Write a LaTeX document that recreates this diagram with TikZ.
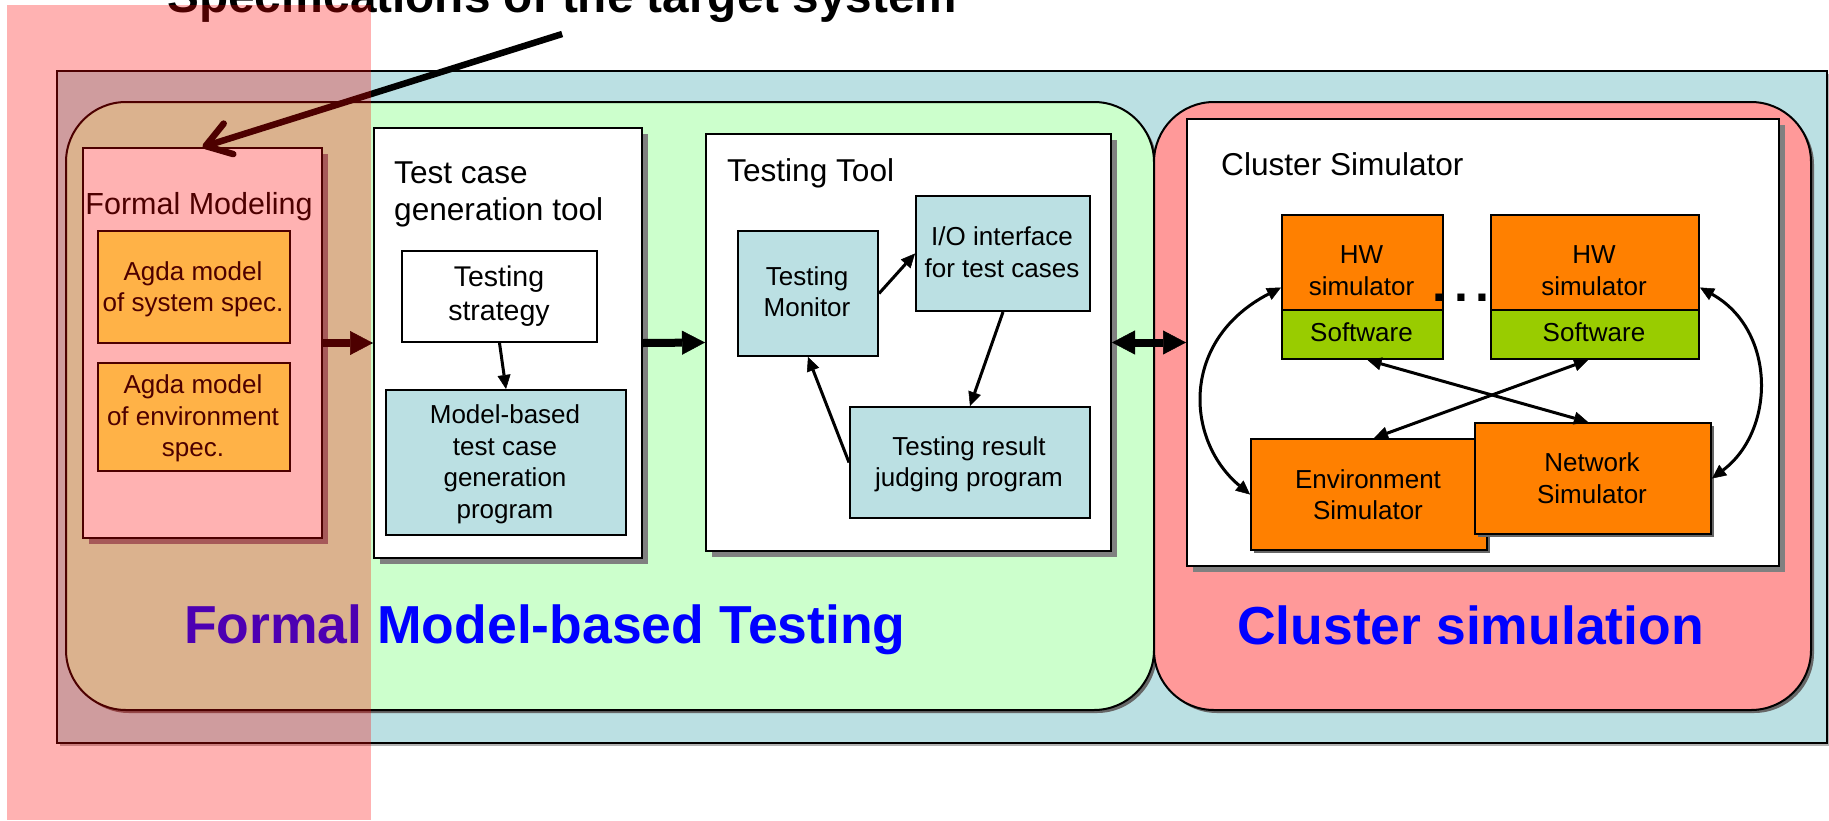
\documentclass[tikz,border=0pt]{standalone}
\usepackage{fontspec}
\setmainfont{Liberation Sans}
\usetikzlibrary{arrows.meta,shadows}
\definecolor{panelblue}{RGB}{187,224,227}
\definecolor{mbtgreen}{RGB}{204,255,204}
\definecolor{simred}{RGB}{255,153,153}
\definecolor{simorange}{RGB}{255,128,0}
\definecolor{swgreen}{RGB}{153,204,0}
\definecolor{agdayellow}{RGB}{255,255,102}
\newcommand{\fsz}[2]{\fontsize{#1}{#2}\selectfont}
% first-line struts, so that a label's top sits a fixed distance above its first baseline
\newcommand{\strutA}{\rule{0pt}{20pt}}
\newcommand{\strutB}{\rule{0pt}{21.5pt}}
\newcommand{\strutC}{\rule{0pt}{23pt}}
\begin{document}
\begin{tikzpicture}[x=1pt,y=-1pt,
  panel/.style={draw=black, line width=2pt, inner sep=0pt, anchor=north west},
  boxshadow/.style={drop shadow={shadow xshift=6pt, shadow yshift=-6pt, fill=black!50, opacity=1}},
  smallshadow/.style={drop shadow={shadow xshift=3pt, shadow yshift=-3pt, fill=black!60, opacity=1}},
  lbl/.style={inner sep=0pt, align=center, anchor=north, font=\fsz{26}{31.7}},
  hdr/.style={inner sep=0pt, anchor=base west, font=\fsz{31.6}{36.7}},
  bigtxt/.style={inner sep=0pt, anchor=base west, text=blue, font=\bfseries\fsz{53.5}{64}},
  flowarrow/.style={line width=3pt, -{Triangle[length=14pt,width=13pt,line width=0.5pt]}},
  flowboth/.style={line width=3pt, {Triangle[length=14pt,width=13pt,line width=0.5pt]}-{Triangle[length=14pt,width=13pt,line width=0.5pt]}},
  bigarrow/.style={line width=8pt, -{Triangle[length=23pt,width=24pt,line width=0.5pt]}},
  bigboth/.style={line width=8pt, {Triangle[length=23pt,width=24pt,line width=0.5pt]}-{Triangle[length=23pt,width=24pt,line width=0.5pt]}},
  titlearrow/.style={line width=6.5pt, -{Straight Barb[length=24pt,width=32pt,round]}},
]
\useasboundingbox (0,0) rectangle (1829,820);

% background panels
\node[panel, fill=panelblue, minimum width=1770pt, minimum height=672pt,
      drop shadow={shadow xshift=3pt, shadow yshift=-3pt, fill=black!30, opacity=1}] (outer) at (56,70) {};
\node[panel, fill=mbtgreen, rounded corners=60pt, minimum width=1088pt, minimum height=608pt, smallshadow] (mbt) at (65,101) {};
\node[panel, fill=simred, rounded corners=60pt, minimum width=657pt, minimum height=608pt, smallshadow] (sim) at (1153,101) {};

% formal modeling
\node[panel, fill=white, minimum width=239pt, minimum height=390pt, boxshadow] (fm) at (82,147) {};
\node[panel, fill=agdayellow, minimum width=192pt, minimum height=112pt] (agda1) at (97,230) {};
\node[panel, fill=agdayellow, minimum width=192pt, minimum height=108pt] (agda2) at (97,362) {};
\node[inner sep=0pt, anchor=base, font=\fsz{30.5}{36}] (fm-t) at (199,214) {Formal Modeling};
\node[lbl] (agda1-t) at (193,260) {\strutA Agda model\\of system spec.};
\node[lbl] (agda2-t) at (193,373.3) {\strutA Agda model\\of environment\\spec.};

% test case generation tool
\node[panel, fill=white, minimum width=268pt, minimum height=430pt, boxshadow] (tcg) at (373,127) {};
\node[panel, fill=white, minimum width=195pt, minimum height=91pt] (ts) at (401,250) {};
\node[panel, fill=panelblue, minimum width=240pt, minimum height=145pt] (mb) at (385,389) {};
\node[inner sep=0pt, anchor=north west, align=left, font=\fsz{31.6}{36.7}] (tcg-t) at (394,160.3) {\strutC Test case\\generation tool};
\node[lbl, font=\fsz{28.5}{34}] (ts-t) at (499,265.2) {\strutB Testing\\strategy};
\node[lbl] (mb-t) at (505,403.3) {\strutA Model-based\\test case\\generation\\program};

% testing tool
\node[panel, fill=white, minimum width=405pt, minimum height=417pt, boxshadow] (tt) at (705,133) {};
\node[panel, fill=panelblue, minimum width=140pt, minimum height=125pt] (mon) at (737,230) {};
\node[panel, fill=panelblue, minimum width=174pt, minimum height=115pt] (io) at (915,195) {};
\node[panel, fill=panelblue, minimum width=240pt, minimum height=111pt] (res) at (849,406) {};
\node[hdr] (tt-t) at (727,181.7) {Testing Tool};
\node[lbl] (mon-t) at (807,265) {\strutA Testing\\Monitor};
\node[lbl] (io-t) at (1002,225.7) {\strutA I/O interface\\for test cases};
\node[lbl] (res-t) at (969,435) {\strutA Testing result\\judging program};

% cluster simulator
\node[panel, fill=white, minimum width=592pt, minimum height=447pt, boxshadow] (cs) at (1186,118) {};
\node[panel, fill=simorange, minimum width=161pt, minimum height=95pt] (hw1) at (1281,214) {};
\node[panel, fill=swgreen, minimum width=161pt, minimum height=49pt] (sw1) at (1281,309) {};
\node[panel, fill=simorange, minimum width=208pt, minimum height=95pt] (hw2) at (1490,214) {};
\node[panel, fill=swgreen, minimum width=208pt, minimum height=49pt] (sw2) at (1490,309) {};
\node[panel, fill=simorange, minimum width=236pt, minimum height=111pt,
      drop shadow={shadow xshift=2.5pt, shadow yshift=-2.5pt, fill=black!60, opacity=1}] (env) at (1250,438) {};
\node[panel, fill=simorange, minimum width=236pt, minimum height=111pt,
      drop shadow={shadow xshift=2.5pt, shadow yshift=-2.5pt, fill=black!60, opacity=1}] (net) at (1474,422) {};
\node[hdr] (cs-t) at (1221,175) {Cluster Simulator};
\node[lbl] (hw1-t) at (1361.5,243.3) {\strutA HW\\simulator};
\node[lbl] (hw2-t) at (1594,243.3) {\strutA HW\\simulator};
\node[inner sep=0pt, anchor=base, font=\fsz{26}{31.7}] (sw1-t) at (1361.5,341.7) {Software};
\node[inner sep=0pt, anchor=base, font=\fsz{26}{31.7}] (sw2-t) at (1594,341.7) {Software};
\node[lbl] (env-t) at (1368,468) {\strutA Environment\\Simulator};
\node[lbl] (net-t) at (1592,451.7) {\strutA Network\\Simulator};
\node[inner sep=0pt, anchor=base west, font=\bfseries\fsz{50}{60}] (dots) at (1432.3,301.7) {.\kern7.8pt.\kern7.8pt.};

% connectors inside the blocks
\draw[flowarrow] (ts.south) -- (mb.north);
\draw[flowarrow] (mon.east) -- (io.west);
\draw[flowarrow] (io.south) -- (res.north);
\draw[flowarrow] (res.west) -- (mon.south);
\draw[flowboth] ([yshift=-25pt]hw1.west) .. controls (1180,340) and (1185,440) .. (env.west);
\draw[flowboth] ([yshift=-25pt]hw2.east) .. controls (1776,330) and (1776,430) .. (net.east);
\draw[flowboth] ([xshift=5pt]sw1.south) -- ([xshift=-5pt]net.north);
\draw[flowboth] ([xshift=-7pt]sw2.south) -- ([xshift=5pt]env.north);

% connectors between the blocks
\draw[bigarrow] (fm.east) -- (tcg.west);
\draw[bigarrow] (tcg.east) -- (tt.west);
\draw[bigboth] (tt.east) -- (cs.west);

% captions
\node[bigtxt] (mbt-t) at (184,643.3) {Formal Model-based Testing};
\node[bigtxt] (sim-t) at (1237,644) {Cluster simulation};
\node[inner sep=0pt, anchor=base west, font=\bfseries\fsz{47.7}{57}] (title) at (167,12.7) {Specifications of the target system};
\draw[titlearrow] ([yshift=-11pt]title.south) -- (fm.north);

% translucent highlight over the formal modeling column
\fill[red, opacity=0.3] (7,5) rectangle (371,820);
\end{tikzpicture}
\end{document}
